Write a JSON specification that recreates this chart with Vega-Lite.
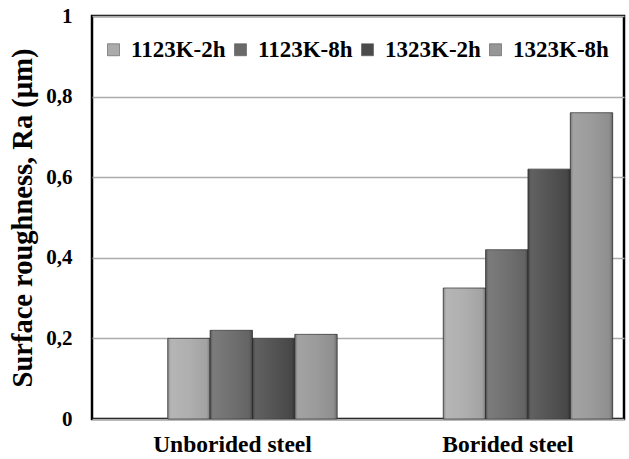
{
  "$schema": "https://vega.github.io/schema/vega-lite/v6.json",
  "width": 532,
  "height": 403,
  "autosize": {"type": "none"},
  "padding": {"left": 92, "top": 16, "right": 5, "bottom": 40},
  "background": "white",
  "data": {
    "values": [
      {"steel": "Unborided steel", "series": "1123K-2h", "ra": 0.20},
      {"steel": "Unborided steel", "series": "1123K-8h", "ra": 0.22},
      {"steel": "Unborided steel", "series": "1323K-2h", "ra": 0.20},
      {"steel": "Unborided steel", "series": "1323K-8h", "ra": 0.21},
      {"steel": "Borided steel", "series": "1123K-2h", "ra": 0.325},
      {"steel": "Borided steel", "series": "1123K-8h", "ra": 0.42},
      {"steel": "Borided steel", "series": "1323K-2h", "ra": 0.62},
      {"steel": "Borided steel", "series": "1323K-8h", "ra": 0.76}
    ]
  },
  "config": {
    "font": "Liberation Serif",
    "view": {"stroke": "black", "strokeWidth": 2.5}
  },
  "encoding": {
    "x": {
      "field": "steel",
      "type": "nominal",
      "sort": ["Unborided steel", "Borided steel"],
      "scale": {"paddingInner": 0.385, "paddingOuter": 0.158, "align": 0.87},
      "axis": {
        "title": null,
        "labelAngle": 0,
        "labelFont": "Liberation Serif",
        "labelFontWeight": "bold",
        "labelFontSize": 23.5,
        "labelColor": "black",
        "labelPadding": 13,
        "labelOffset": -20,
        "ticks": false,
        "domain": false
      }
    },
    "xOffset": {
      "field": "series",
      "type": "nominal",
      "sort": ["1123K-2h", "1123K-8h", "1323K-2h", "1323K-8h"],
      "scale": {"paddingInner": 0, "paddingOuter": 0}
    },
    "y": {
      "field": "ra",
      "type": "quantitative",
      "scale": {"domain": [0, 1], "nice": false},
      "axis": {
        "title": "Surface roughness, Ra (µm)",
        "titleFont": "Liberation Serif",
        "titleFontWeight": "bold",
        "titleFontSize": 28.5,
        "titleColor": "black",
        "titlePadding": 8,
        "values": [0, 0.2, 0.4, 0.6, 0.8, 1],
        "labelExpr": "replace(format(datum.value, '.1~f'), '.', ',')",
        "labelFont": "Liberation Serif",
        "labelFontWeight": "bold",
        "labelFontSize": 21,
        "labelColor": "black",
        "labelPadding": 20,
        "ticks": false,
        "domain": false,
        "grid": true,
        "gridColor": "#ababab",
        "gridWidth": 1.3
      }
    }
  },
  "layer": [
    {
      "mark": {"type": "bar", "stroke": "#3a3a3a", "strokeWidth": 0.8},
      "encoding": {
        "color": {
          "field": "series",
          "type": "nominal",
          "sort": ["1123K-2h", "1123K-8h", "1323K-2h", "1323K-8h"],
          "scale": {
            "domain": ["1123K-2h", "1123K-8h", "1323K-2h", "1323K-8h"],
            "range": ["#ababab", "#696969", "#4b4b4b", "#969696"]
          },
          "legend": {
            "title": null,
            "orient": "none",
            "direction": "horizontal",
            "legendX": 10,
            "legendY": 22,
            "symbolType": "square",
            "symbolSize": 144,
            "symbolStrokeWidth": 0.6,
            "symbolStrokeColor": "#555555",
            "labelFont": "Liberation Serif",
            "labelFontWeight": "bold",
            "labelFontSize": 23,
            "labelColor": "black",
            "labelOffset": 6,
            "columnPadding": 3
          }
        }
      }
    },
    {
      "mark": {
        "type": "bar",
        "color": {
          "gradient": "linear",
          "x1": 0, "y1": 0, "x2": 1, "y2": 0,
          "stops": [
            {"offset": 0, "color": "rgba(0,0,0,0.25)"},
            {"offset": 0.08, "color": "rgba(255,255,255,0.12)"},
            {"offset": 0.5, "color": "rgba(255,255,255,0.05)"},
            {"offset": 0.92, "color": "rgba(0,0,0,0.05)"},
            {"offset": 1, "color": "rgba(0,0,0,0.3)"}
          ]
        }
      }
    }
  ]
}
